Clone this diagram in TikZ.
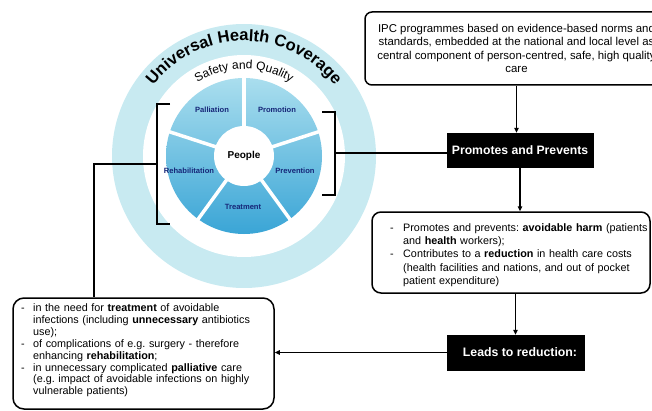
\documentclass[tikz,border=0pt]{standalone}
\usepackage{fontspec}
\setmainfont{Liberation Sans}
\usetikzlibrary{arrows.meta,decorations.text,calc}
\definecolor{ringc}{RGB}{200,234,241}
\definecolor{pietop}{RGB}{170,222,238}
\definecolor{piebot}{RGB}{58,165,214}
\definecolor{navy}{RGB}{22,38,120}
\frenchspacing
\newcommand{\dashitem}[2]{\noindent\hangindent=#1\hangafter=1 \makebox[#1][l]{-}#2\par}
\begin{document}
\begin{tikzpicture}[x=1pt,y=1pt,
  conn/.style={line width=1.5pt},
  arr/.style={line width=1.5pt,-{Triangle[length=5pt,width=4.5pt]}},
  brk/.style={line width=1.8pt},
  rbox/.style={draw,line width=1.5pt,rounded corners=7pt,inner sep=0pt},
  blackbox/.style={fill=black,draw=black,text=white,font=\bfseries\fontsize{12.2}{14}\selectfont,inner sep=0pt},
  pielabel/.style={text=navy,font=\bfseries\fontsize{7.6}{8}\selectfont,inner sep=0pt}]
\useasboundingbox (0,0) rectangle (652,410);
\coordinate (C) at (244,254);
\fill[ringc] (C) circle (132);
\fill[white] (C) circle (101);
\shade[top color=pietop,bottom color=piebot] (C) circle (78);
\foreach \a in {90,18,-54,-126,162} \draw[white,line width=3.5pt] (C) -- ++(\a:79);
\fill[white] (C) circle (30);
\path[decorate,decoration={text along path,text align=center,text={|\bfseries\fontsize{16.5}{18}\selectfont|Universal Health Coverage}}] ($(C)+(160:115)$) arc[start angle=160,end angle=20,radius=115];
\path[decorate,decoration={text along path,text align=center,text={|\fontsize{12}{14}\selectfont|Safety and Quality}}] ($(C)+(150:87)$) arc[start angle=150,end angle=30,radius=87];
\node[pielabel] (pal) at (212,300) {Palliation};
\node[pielabel] (pro) at (277,300) {Promotion};
\node[pielabel] (reh) at (189,239) {Rehabilitation};
\node[pielabel] (pre) at (295,239) {Prevention};
\node[pielabel] (tre) at (243,203) {Treatment};
\node[font=\bfseries\fontsize{10}{11}\selectfont,inner sep=0pt] (peo) at (244,254) {People};
\draw[brk] (170,306) -- (157,306) -- (157,186) -- (170,186);
\coordinate (lbm) at (157,246);
\draw[brk] (322,298) -- (335,298) -- (335,215) -- (322,215);
\coordinate (rbm) at (335,257);
\node[rbox,minimum width=303pt,minimum height=73pt,align=center,font=\fontsize{11.4}{13.6}\selectfont] (ipc) at (516.5,361.5) {IPC programmes based on evidence-based norms and\\standards, embedded at the national and local level as\\central component of person-centred, safe, high quality\\care};
\node[blackbox,minimum width=146pt,minimum height=34pt] (pp) at (520,260) {Promotes and Prevents};
\node[rbox,rounded corners=9pt,minimum width=278pt,minimum height=81pt] (pv) at (511,157.5) {};
\node[anchor=north west,text width=290pt,inner sep=0pt,align=left,font=\fontsize{10.8}{13.2}\selectfont] (pvt) at (390,186.5) {\dashitem{13pt}{Promotes and prevents: \textbf{avoidable harm} (patients\newline and \textbf{health} workers);}\dashitem{13pt}{Contributes to a \textbf{reduction} in health care costs\newline (health facilities and nations, and out of pocket\newline patient expenditure)}};
\node[blackbox,minimum width=137pt,minimum height=35pt,font=\bfseries\fontsize{12.3}{14}\selectfont] (lr) at (515.5,57.5) {\hspace{9pt}Leads to reduction:};
\node[rbox,rounded corners=11pt,minimum width=261pt,minimum height=111pt] (lb) at (143.5,56.5) {};
\node[anchor=north west,text width=280pt,inner sep=0pt,align=left,font=\fontsize{10.8}{11.9}\selectfont] (lbt) at (21,106.5) {\dashitem{12pt}{in the need for \textbf{treatment} of avoidable\newline infections (including \textbf{unnecessary} antibiotics\newline use);}\dashitem{12pt}{of complications of e.g. surgery - therefore\newline enhancing \textbf{rehabilitation};}\dashitem{12pt}{in unnecessary complicated \textbf{palliative} care\newline (e.g. impact of avoidable infections on highly\newline vulnerable patients)}};
\draw[arr] (ipc.south) -- (ipc.south |- pp.north);
\draw[arr] (pp.south) -- (pp.south |- pv.north);
\draw[arr] (lr.north |- pv.south) -- (lr.north);
\draw[arr] (lr.west) -- (lr.west -| lb.east);
\draw[conn] (rbm) -- (rbm -| pp.west);
\coordinate (lcorner) at (94,246);
\draw[conn] (lbm) -- (lcorner) -- (lcorner |- lb.north);
\end{tikzpicture}
\end{document}
